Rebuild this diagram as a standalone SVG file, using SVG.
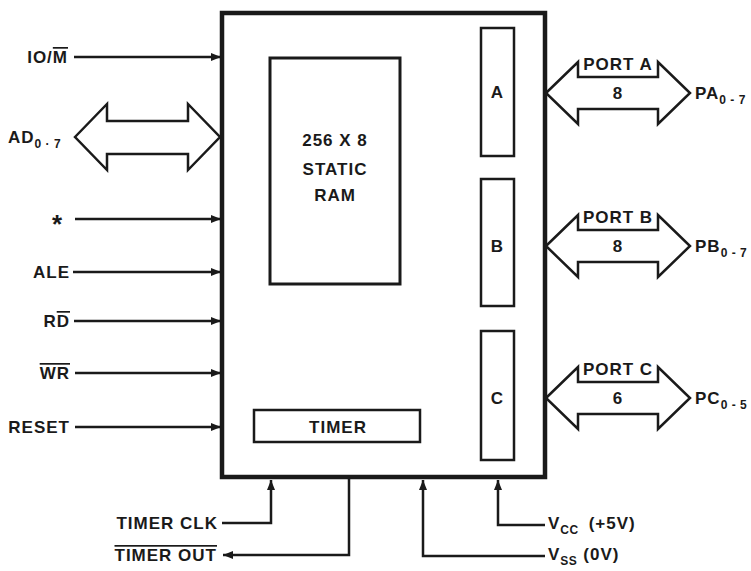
<svg xmlns="http://www.w3.org/2000/svg" width="751" height="571" viewBox="0 0 751 571">
<style>
text{font-family:"Liberation Sans",Arial,sans-serif;font-weight:bold;fill:#1a1a1a;}
.lbl{font-size:17px;letter-spacing:1px;}
.end{text-anchor:end;}
.mid{text-anchor:middle;}
.sub{font-size:12px;letter-spacing:0.5px;}
.wire{stroke:#1a1a1a;stroke-width:2.5;fill:none;}
.box{stroke:#1a1a1a;fill:#fff;}
.bus{stroke:#1a1a1a;stroke-width:2.5;fill:#fff;stroke-linejoin:miter;}
</style>
<defs>
<marker id="ah" viewBox="0 0 10 8" refX="10" refY="4" markerWidth="10" markerHeight="8" markerUnits="userSpaceOnUse" orient="auto">
<path d="M0,0 L10,4 L0,8 z" fill="#1a1a1a"/>
</marker>
</defs>
<rect width="751" height="571" fill="#fff"/>

<g id="chip">
<rect class="box" x="222" y="13" width="323" height="464" stroke-width="4.5"/>
</g>
<g id="ram">
<rect class="box" x="270" y="58" width="130" height="226" stroke-width="3"/>
<text class="lbl mid" x="335" y="146">256 X 8</text>
<text class="lbl mid" x="335" y="175">STATIC</text>
<text class="lbl mid" x="335" y="201">RAM</text>
</g>
<g id="timer">
<rect class="box" x="254" y="410" width="166" height="32" stroke-width="2.5"/>
<text class="lbl mid" x="338" y="433">TIMER</text>
</g>
<g id="portA">
<rect class="box" x="481" y="28" width="33" height="128" stroke-width="2.5"/>
<text class="lbl mid" x="497.5" y="98">A</text>
</g>
<g id="portB">
<rect class="box" x="481" y="179" width="33" height="127" stroke-width="2.5"/>
<text class="lbl mid" x="497.5" y="252">B</text>
</g>
<g id="portC">
<rect class="box" x="481" y="331" width="33" height="129" stroke-width="2.5"/>
<text class="lbl mid" x="497.5" y="404">C</text>
</g>

<g id="connectors">
<line class="wire" x1="74" y1="57" x2="221" y2="57" marker-end="url(#ah)"/>
<line class="wire" x1="75" y1="219" x2="221" y2="219" marker-end="url(#ah)"/>
<line class="wire" x1="73" y1="272" x2="221" y2="272" marker-end="url(#ah)"/>
<line class="wire" x1="74" y1="321" x2="221" y2="321" marker-end="url(#ah)"/>
<line class="wire" x1="75" y1="373" x2="221" y2="373" marker-end="url(#ah)"/>
<line class="wire" x1="75" y1="427" x2="221" y2="427" marker-end="url(#ah)"/>
<path class="bus" d="M75,137 L107,104 L107,121 L188,121 L188,104 L220,137 L188,170 L188,154 L107,154 L107,170 Z"/>
<path class="bus" d="M546,93 L578,62 L578,77 L658,77 L658,62 L690,93 L658,124 L658,109 L578,109 L578,124 Z"/>
<path class="bus" d="M546,246 L578,215 L578,230 L658,230 L658,215 L690,246 L658,277 L658,262 L578,262 L578,277 Z"/>
<path class="bus" d="M546,398 L578,367 L578,382 L658,382 L658,367 L690,398 L658,429 L658,414 L578,414 L578,429 Z"/>
<polyline class="wire" points="222,523 271,523 271,480" marker-end="url(#ah)"/>
<polyline class="wire" points="349,479 349,555 223,555" marker-end="url(#ah)"/>
<polyline class="wire" points="545,556 423,556 423,480" marker-end="url(#ah)"/>
<polyline class="wire" points="545,525 498,525 498,480" marker-end="url(#ah)"/>
</g>

<g id="labels">
<text class="lbl end" x="68" y="63">IO/<tspan text-decoration="overline">M</tspan></text>
<text class="lbl" x="8" y="143">AD<tspan class="sub" dy="5">0 · 7</tspan></text>
<text class="mid" x="57" y="233" font-size="26">*</text>
<text class="lbl end" x="70" y="278">ALE</text>
<text class="lbl end" x="70" y="327">R<tspan text-decoration="overline">D</tspan></text>
<text class="lbl end" x="70" y="379" text-decoration="overline">WR</text>
<text class="lbl end" x="70" y="433">RESET</text>
<text class="lbl mid" x="618" y="70">PORT A</text>
<text class="lbl mid" x="618" y="99">8</text>
<text class="lbl" x="695" y="99">PA<tspan class="sub" dy="5">0 - 7</tspan></text>
<text class="lbl mid" x="618" y="223">PORT B</text>
<text class="lbl mid" x="618" y="252">8</text>
<text class="lbl" x="695" y="252">PB<tspan class="sub" dy="5">0 - 7</tspan></text>
<text class="lbl mid" x="618" y="375">PORT C</text>
<text class="lbl mid" x="618" y="404">6</text>
<text class="lbl" x="695" y="404">PC<tspan class="sub" dy="5">0 - 5</tspan></text>
<text class="lbl end" x="218" y="529">TIMER CLK</text>
<text class="lbl end" x="217" y="561" text-decoration="overline">TIMER OUT</text>
<text class="lbl" x="548" y="529">V<tspan class="sub" dy="5">CC</tspan><tspan dy="-5" dx="10">(+5V)</tspan></text>
<text class="lbl" x="548" y="560">V<tspan class="sub" dy="5">SS</tspan><tspan dy="-5" dx="6">(0V)</tspan></text>
</g>
</svg>
